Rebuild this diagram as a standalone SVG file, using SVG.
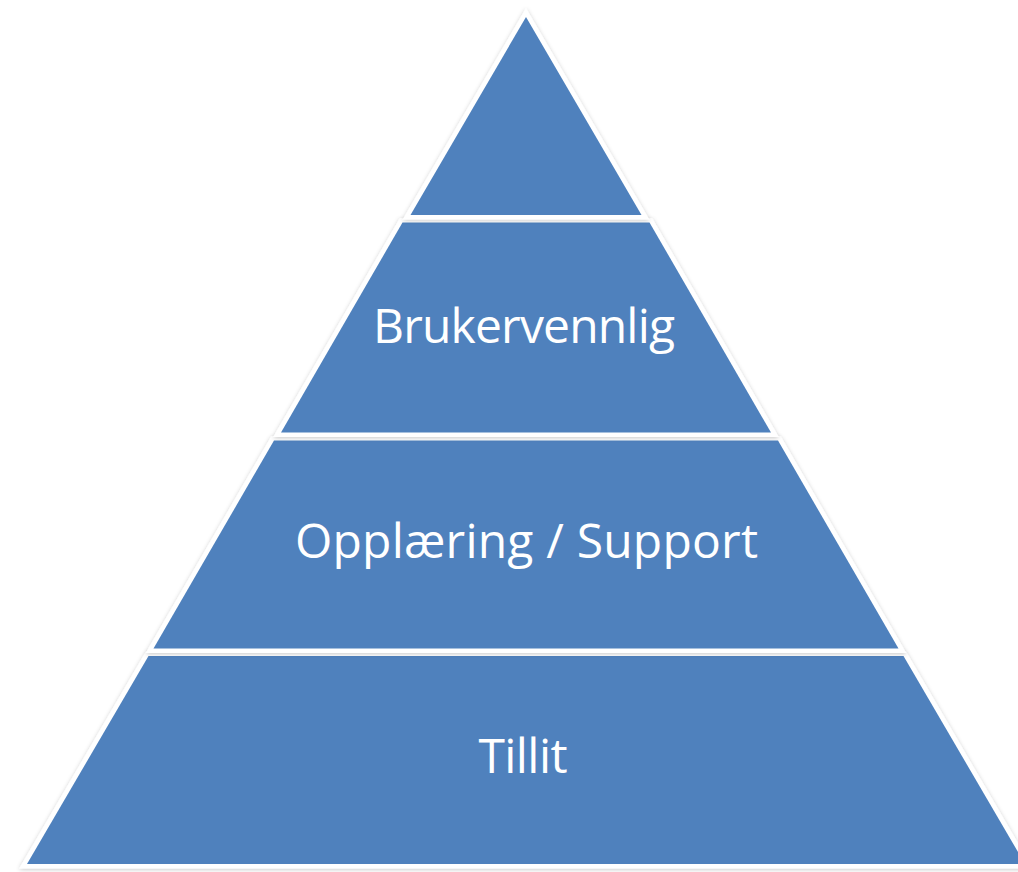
<svg xmlns="http://www.w3.org/2000/svg" width="1018" height="872" viewBox="0 0 1018 872">
  <defs>
    <filter id="sh" x="-10%" y="-10%" width="120%" height="120%">
      <feDropShadow dx="0" dy="1" stdDeviation="2" flood-color="#000" flood-opacity="0.22"/>
    </filter>
  </defs>
  <style>
    .rim { fill: #ffffff; stroke: #ffffff; stroke-width: 9; stroke-linejoin: miter; stroke-miterlimit: 10; filter: url(#sh); }
    .tier { fill: #4F81BD; }
    .lbl { font-family: "Open Sans", "Liberation Sans", sans-serif; font-size: 48px; fill: #ffffff; text-anchor: middle; }
  </style>
  <rect width="1018" height="872" fill="#ffffff"/>
  <g id="tier4">
    <polygon class="rim" points="148.5,656 903.5,656 1025,864 27,864"/>
    <polygon class="tier" points="148.5,656 903.5,656 1025,864 27,864"/>
    <text class="lbl" x="523" y="773" textLength="89">Tillit</text>
  </g>
  <g id="tier3">
    <polygon class="rim" points="274,440.5 778,440.5 898.5,648.5 153.5,648.5"/>
    <polygon class="tier" points="274,440.5 778,440.5 898.5,648.5 153.5,648.5"/>
    <text class="lbl" x="526.5" y="558" textLength="463">Opplæring / Support</text>
  </g>
  <g id="tier2">
    <polygon class="rim" points="402.5,222.5 649.5,222.5 771,432.5 281,432.5"/>
    <polygon class="tier" points="402.5,222.5 649.5,222.5 771,432.5 281,432.5"/>
    <text class="lbl" x="524" y="343" textLength="302">Brukervennlig</text>
  </g>
  <g id="tier1">
    <polygon class="rim" points="526,17 641.5,215 410.5,215"/>
    <polygon class="tier" points="526,17 641.5,215 410.5,215"/>
  </g>
  <g id="connectors"/>
</svg>
